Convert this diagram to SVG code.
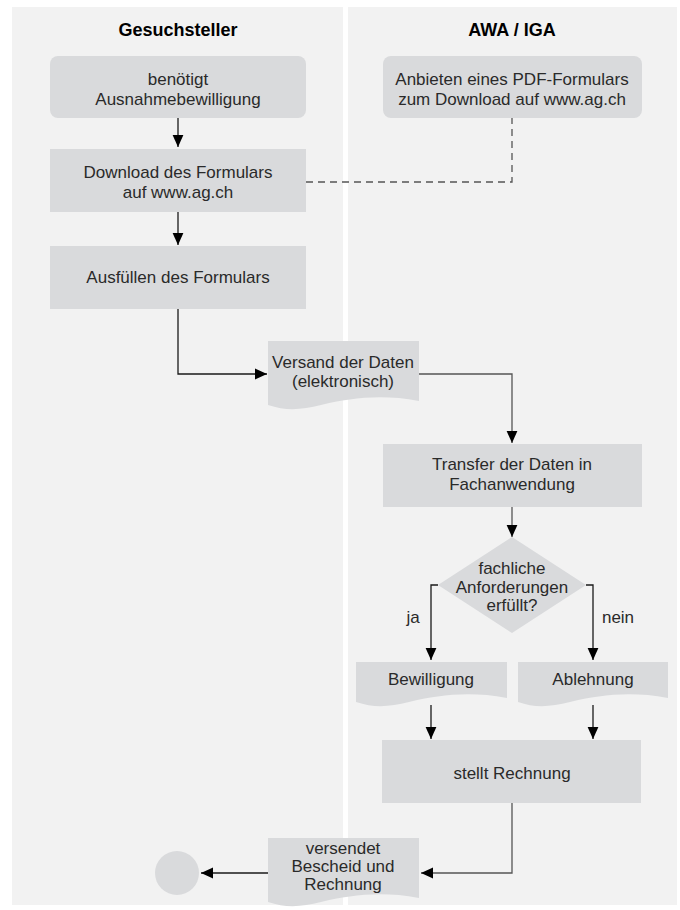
<svg xmlns="http://www.w3.org/2000/svg" width="680" height="910" viewBox="0 0 680 910">
<defs>
<style>
.lane{fill:#f2f2f2}
.box{fill:#d9dadc}
.t{font-family:"Liberation Sans",Arial,sans-serif;font-size:17px;fill:#2a2a2a;text-anchor:middle}
.h{font-family:"Liberation Sans",Arial,sans-serif;font-size:18px;font-weight:bold;fill:#000;text-anchor:middle}
.c{fill:none;stroke:#1a1a1a;stroke-width:1.3}
.g{fill:none;stroke:#555;stroke-width:1.3}
.d{fill:none;stroke:#555;stroke-width:1.3;stroke-dasharray:7,5}
</style>
<marker id="ah" markerUnits="userSpaceOnUse" markerWidth="12" markerHeight="12" viewBox="0 0 10 10" refX="10" refY="5" orient="auto">
<path d="M0,0.5 L10,5 L0,9.5 z" fill="#000"/>
</marker>
</defs>
<rect width="680" height="910" fill="#fff"/>
<g id="lanes">
<rect class="lane" x="12" y="7" width="331" height="898"/>
<rect class="lane" x="348" y="7" width="329" height="898"/>
<text class="h" x="178" y="36">Gesuchsteller</text>
<text class="h" x="512" y="36">AWA / IGA</text>
</g>
<g id="connectors">
<path class="c" d="M178,118 V147" marker-end="url(#ah)"/>
<path class="c" d="M178,212 V245" marker-end="url(#ah)"/>
<path class="d" d="M306,182 H512 V118"/>
<path class="c" d="M178,309 V374 H267" marker-end="url(#ah)"/>
<path class="g" d="M418,374 H512 V443" marker-end="url(#ah)"/>
<path class="g" d="M512,507 V537" marker-end="url(#ah)"/>
<path class="c" d="M438,585 H431 V660" marker-end="url(#ah)"/>
<path class="c" d="M586,585 H593 V660" marker-end="url(#ah)"/>
<path class="c" d="M431,705 V739" marker-end="url(#ah)"/>
<path class="c" d="M593,705 V739" marker-end="url(#ah)"/>
<path class="g" d="M512,803 V873 H421" marker-end="url(#ah)"/>
<path class="c" d="M268,873 H201" marker-end="url(#ah)"/>
<text class="t" x="413" y="623">ja</text>
<text class="t" x="618" y="623">nein</text>
</g>
<g id="n1">
<rect class="box" x="50" y="56" width="256" height="62" rx="8"/>
<text class="t" x="178" y="85">benötigt</text>
<text class="t" x="178" y="105">Ausnahmebewilligung</text>
</g>
<g id="n2">
<rect class="box" x="383" y="56" width="259" height="62" rx="8"/>
<text class="t" x="512" y="85">Anbieten eines PDF-Formulars</text>
<text class="t" x="512" y="105">zum Download auf www.ag.ch</text>
</g>
<g id="n3">
<rect class="box" x="50" y="149" width="256" height="63"/>
<text class="t" x="178" y="178">Download des Formulars</text>
<text class="t" x="178" y="198">auf www.ag.ch</text>
</g>
<g id="n4">
<rect class="box" x="50" y="246" width="256" height="63"/>
<text class="t" x="178" y="283">Ausfüllen des Formulars</text>
</g>
<g id="n5">
<path class="box" d="M268,341 H419 V401 C381,394 351,398 321,405 C301,410 286,411 268,405 Z"/>
<text class="t" x="343" y="368">Versand der Daten</text>
<text class="t" x="343" y="387">(elektronisch)</text>
</g>
<g id="n6">
<rect class="box" x="383" y="444" width="259" height="63"/>
<text class="t" x="512" y="470">Transfer der Daten in</text>
<text class="t" x="512" y="490">Fachanwendung</text>
</g>
<g id="n7">
<path class="box" d="M512,537 L586,585 L512,633 L438,585 Z"/>
<text class="t" x="512" y="574">fachliche</text>
<text class="t" x="512" y="593">Anforderungen</text>
<text class="t" x="512" y="611">erfüllt?</text>
</g>
<g id="n8">
<path class="box" d="M356,662 H507 V698 C469,691 439,695 409,702 C389,707 374,708 356,702 Z"/>
<text class="t" x="431" y="685">Bewilligung</text>
</g>
<g id="n9">
<path class="box" d="M518,662 H668 V698 C630,691 600,695 570,702 C550,707 535,708 518,702 Z"/>
<text class="t" x="593" y="685">Ablehnung</text>
</g>
<g id="n10">
<rect class="box" x="382" y="740" width="259" height="63"/>
<text class="t" x="512" y="779">stellt Rechnung</text>
</g>
<g id="n11">
<path class="box" d="M268,838 H419 V898 C381,891 351,895 321,902 C301,907 286,908 268,902 Z"/>
<text class="t" x="343" y="854">versendet</text>
<text class="t" x="343" y="872">Bescheid und</text>
<text class="t" x="343" y="890">Rechnung</text>
</g>
<g id="n12">
<circle cx="177" cy="873" r="22" fill="#d9dadc"/>
</g>
</svg>
